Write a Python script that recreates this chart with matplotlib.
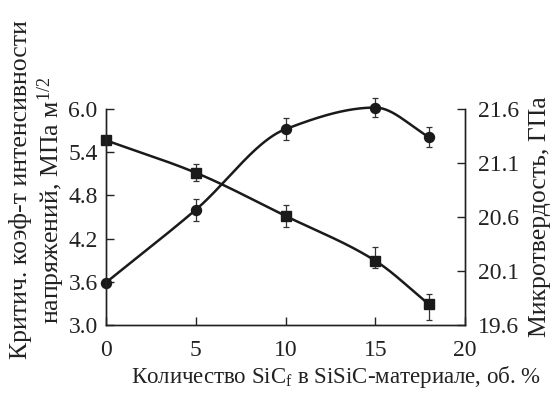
import numpy as np
import matplotlib
matplotlib.use("Agg")
import matplotlib.pyplot as plt

# Data
x = [0, 5, 10, 15, 18]
toughness = [3.59, 4.60, 5.72, 6.02, 5.61]          # left axis, circles
toughness_err = [0.0, 0.15, 0.15, 0.13, 0.14]
hardness = [21.31, 21.01, 20.61, 20.195, 19.79]      # right axis, squares
hardness_err_lo = [0.0, 0.08, 0.10, 0.07, 0.145]
hardness_err_hi = [0.0, 0.08, 0.10, 0.125, 0.095]
xticks = [0, 5, 10, 15, 20]
left_ticks = [3.0, 3.6, 4.2, 4.8, 5.4, 6.0]
right_ticks = [19.6, 20.1, 20.6, 21.1, 21.6]


def pchip(xs, ys, xn):
    xs = np.asarray(xs, float); ys = np.asarray(ys, float)
    h = np.diff(xs); d = np.diff(ys) / h
    n = len(xs); m = np.zeros(n)
    for k in range(1, n - 1):
        if d[k - 1] * d[k] <= 0:
            m[k] = 0
        else:
            w1 = 2 * h[k] + h[k - 1]; w2 = h[k] + 2 * h[k - 1]
            m[k] = (w1 + w2) / (w1 / d[k - 1] + w2 / d[k])
    m[0] = d[0]; m[-1] = d[-1]
    out = np.empty_like(xn)
    for i, xv in enumerate(xn):
        k = min(np.searchsorted(xs, xv, side='right') - 1, n - 2)
        t = (xv - xs[k]) / h[k]
        h00 = 2*t**3 - 3*t**2 + 1; h10 = t**3 - 2*t**2 + t
        h01 = -2*t**3 + 3*t**2; h11 = t**3 - t**2
        out[i] = h00*ys[k] + h10*h[k]*m[k] + h01*ys[k+1] + h11*h[k]*m[k+1]
    return out


plt.rcParams['font.family'] = ['Liberation Serif', 'DejaVu Serif']
plt.rcParams['mathtext.fontset'] = 'custom'
plt.rcParams['mathtext.rm'] = 'Liberation Serif'
plt.rcParams['mathtext.it'] = 'Liberation Serif:italic'

W, H = 554, 397
fig = plt.figure(figsize=(5.54, 3.97), dpi=100)
ax = fig.add_axes([106/W, 1 - 325/H, (465-106)/W, (325-109)/H])
ax2 = ax.twinx()

xs = np.linspace(0, 18, 300)
col = '#1a1a1a'
ax.plot(xs, pchip(x, toughness, xs), color=col, lw=1.8, clip_on=False)
ax.errorbar(x, toughness, yerr=toughness_err, fmt='o', color=col, ms=7.2,
            ecolor='#333333', elinewidth=0.9, capsize=2, capthick=0.9, clip_on=False)
ax2.plot(xs, pchip(x, hardness, xs), color=col, lw=1.8, clip_on=False)
ax2.errorbar(x, hardness, yerr=[hardness_err_lo, hardness_err_hi], fmt='s', color=col,
             ms=6.5, ecolor='#333333', elinewidth=0.9, capsize=2, capthick=0.9, clip_on=False)

ax.set_xlim(0, 20)
ax.set_ylim(3.0, 6.0)
ax2.set_ylim(19.6, 21.6)
ax.set_xticks(xticks)
ax.set_yticks(left_ticks)
ax.set_yticklabels([f"{v:.1f}" for v in left_ticks])
ax2.set_yticks(right_ticks)
ax2.set_yticklabels([f"{v:.1f}" for v in right_ticks])

for a in (ax, ax2):
    a.spines['top'].set_visible(False)
    for s in a.spines.values():
        s.set_linewidth(1.0)
        s.set_color('#222222')
ax.tick_params(axis='both', direction='in', length=6, width=1.0, labelsize=17, colors='#222222')
ax.tick_params(axis='y', pad=6)
ax.tick_params(axis='x', pad=11)
ax2.tick_params(axis='y', direction='in', length=6, width=1.0, labelsize=17, pad=9.5, colors='#222222')
for lab in ax.get_xticklabels() + ax.get_yticklabels() + ax2.get_yticklabels():
    lab.set_color('#222222')

fig.text(21/W, 1 - 190/H, "Критич. коэф-т интенсивности", rotation=90,
         ha='center', va='center', fontsize=18.5, color='#222222')
fig.text(51/W, 1 - 200/H, "напряжений, МПа м$^{1/2}$", rotation=90,
         ha='center', va='center', fontsize=18.5, color='#222222')
fig.text(540/W, 1 - 217/H, "Микротвердость, ГПа", rotation=90,
         ha='center', va='center', fontsize=18.5, color='#222222')
fig.text(131/W, 1 - 383/H, "Количество SiC$_\\mathrm{f}$ в SiSiC-материале, об. %",
         ha='left', va='baseline', fontsize=16.5, color='#222222')

fig.savefig("out.png", dpi=100)
